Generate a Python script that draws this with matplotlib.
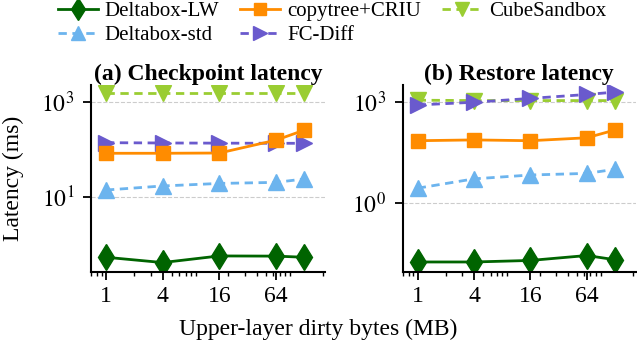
import math
import matplotlib
matplotlib.use("Agg")
import matplotlib.pyplot as plt
from matplotlib.ticker import FixedLocator, NullFormatter, LogLocator

plt.rcParams['font.family'] = ['Liberation Serif', 'DejaVu Serif']
plt.rcParams['mathtext.fontset'] = 'stix'

sizes = [1, 4, 16, 64, 128]
xtick_vals = [1, 4, 16, 64]
xtick_labels = ["1", "4", "16", "64"]

ckpt = {
    "Deltabox-LW": [0.53, 0.41, 0.565, 0.56, 0.53],
    "copytree+CRIU": [82, 82, 83, 155, 252],
    "CubeSandbox": [1550, 1550, 1550, 1550, 1550],
    "Deltabox-std": [13.8, 16.8, 19, 20, 23.6],
    "FC-Diff": [137, 135, 134, 133, 133],
}
restore = {
    "Deltabox-LW": [0.018, 0.018, 0.020, 0.028, 0.021],
    "copytree+CRIU": [72, 76, 72, 88, 150],
    "CubeSandbox": [1150, 1120, 1120, 1120, 1120],
    "Deltabox-std": [2.8, 5.3, 6.9, 7.7, 10.2],
    "FC-Diff": [830, 1000, 1300, 1700, 2000],
}

styles = {
    "Deltabox-LW": dict(color="#006400", marker="d", linestyle="-", ms=13),
    "copytree+CRIU": dict(color="#FF8C00", marker="s", linestyle="-", ms=10),
    "CubeSandbox": dict(color="#9ACD32", marker="v", linestyle="--", ms=11),
    "Deltabox-std": dict(color="#6CB4EE", marker="^", linestyle="--", ms=11),
    "FC-Diff": dict(color="#6A5ACD", marker=">", linestyle="--", ms=11),
}
plot_order = ["CubeSandbox", "FC-Diff", "copytree+CRIU", "Deltabox-std", "Deltabox-LW"]
legend_order = ["Deltabox-LW", "Deltabox-std", "copytree+CRIU", "FC-Diff", "CubeSandbox"]

fig = plt.figure(figsize=(6.37, 3.5), dpi=100)
ax1 = fig.add_axes([0.1425, 0.223, 0.368, 0.534])
ax2 = fig.add_axes([0.632, 0.223, 0.366, 0.534])

FS = 17
LFS = 15

def setup(ax, data, ylim, yticks, title):
    handles = {}
    for name in plot_order:
        st = styles[name]
        kw = dict(dashes=(3, 2)) if st["linestyle"] == "--" else dict(linestyle="-")
        (h,) = ax.plot(sizes, data[name], color=st["color"], marker=st["marker"],
                       markersize=st["ms"], lw=2, label=name, **kw)
        handles[name] = h
    ax.set_xscale("log")
    ax.set_yscale("log")
    ax.set_xlim(0.69, 213)
    ax.set_ylim(*ylim)
    ax.set_xticks(xtick_vals)
    ax.set_xticklabels(xtick_labels, fontsize=FS)
    ax.xaxis.set_minor_locator(LogLocator(base=10, subs=range(2, 10)))
    ax.xaxis.set_minor_formatter(NullFormatter())
    ax.yaxis.set_major_locator(FixedLocator(yticks))
    ax.yaxis.set_minor_locator(FixedLocator([]))
    ax.set_yticklabels([r"$10^{%d}$" % int(round(math.log10(t))) for t in yticks], fontsize=FS)
    ax.grid(axis="y", which="major", linestyle="--", color="#cccccc", lw=0.8)
    ax.set_axisbelow(True)
    for s in ["top", "right"]:
        ax.spines[s].set_visible(False)
    ax.spines["left"].set_linewidth(1.5)
    ax.spines["bottom"].set_linewidth(1.5)
    ax.tick_params(axis="both", which="major", width=1.3, length=6)
    ax.tick_params(axis="x", which="major", pad=4)
    ax.tick_params(axis="y", which="major", pad=6)
    ax.tick_params(axis="x", which="minor", width=1.0, length=3)
    ax.set_title(title, fontsize=FS, fontweight="bold", pad=3)
    return handles

hs = setup(ax1, ckpt, (0.26, 2240), [10, 1000], "(a) Checkpoint latency")
setup(ax2, restore, (0.0091, 3240), [1, 1000], "(b) Restore latency")

ax1.set_ylabel("Latency (ms)", fontsize=FS)
ax1.yaxis.set_label_coords(-0.285, 0.5)
fig.text(0.5, 0.06, "Upper-layer dirty bytes (MB)", fontsize=FS, ha="center", va="center")

fig.legend([hs[n] for n in legend_order], legend_order, loc="upper left",
           bbox_to_anchor=(0.091, 0.995), ncol=3, frameon=False, fontsize=LFS,
           handlelength=1.9, columnspacing=1.0, handletextpad=0.35,
           labelspacing=0.2, markerscale=0.9, borderaxespad=0, borderpad=0)

fig.savefig("out.png", dpi=100)
